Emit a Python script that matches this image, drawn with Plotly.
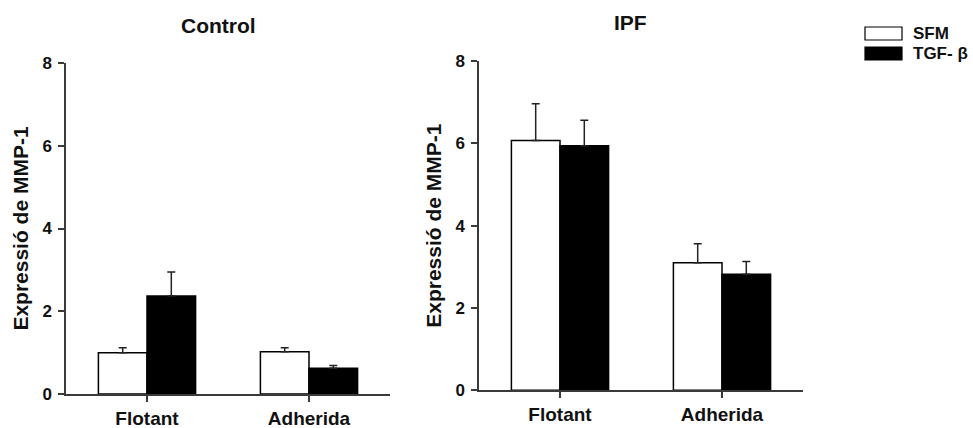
import plotly.graph_objects as go

categories = ["Flotant", "Adherida"]
control_sfm = [1.00, 1.02]
control_sfm_err = [0.12, 0.10]
control_tgf = [2.37, 0.62]
control_tgf_err = [0.58, 0.07]
ipf_sfm = [6.07, 3.10]
ipf_sfm_err = [0.89, 0.46]
ipf_tgf = [5.94, 2.82]
ipf_tgf_err = [0.62, 0.31]
y_ticks = [0, 2, 4, 6, 8]
panel_titles = ["Control", "IPF"]
series_names = ["SFM", "TGF- β"]
y_title = "Expressió de MMP-1"

W, H = 973, 428
FONT = "Liberation Sans, Arial, sans-serif"
AX = "#3a3a3a"

fig = go.Figure()

def add_panel(sfm, sfm_err, tgf, tgf_err, xa, ya):
    for vals, errs, color, name in [(sfm, sfm_err, "white", series_names[0]),
                                    (tgf, tgf_err, "black", series_names[1])]:
        fig.add_trace(go.Bar(
            x=categories, y=vals, name=name, xaxis=xa, yaxis=ya,
            marker=dict(color=color, line=dict(color="black", width=1.5)),
            error_y=dict(type="data", array=errs, arrayminus=[0] * len(errs),
                         symmetric=False, color="#222", thickness=1.5, width=4),
            showlegend=False,
        ))

add_panel(control_sfm, control_sfm_err, control_tgf, control_tgf_err, "x", "y")
add_panel(ipf_sfm, ipf_sfm_err, ipf_tgf, ipf_tgf_err, "x2", "y2")

def xax(domain):
    return dict(domain=domain, range=[-0.5, 1.5], showline=True, linecolor=AX, linewidth=1.5,
                ticks="outside", ticklen=6, tickcolor=AX, tickwidth=1.5, ticklabelstandoff=0,
                tickfont=dict(family=FONT, size=19, color="#111", weight="bold"),
                showgrid=False, zeroline=False, fixedrange=True, automargin=False)

def yax(domain, anchor):
    return dict(domain=domain, range=[0, 8], tickvals=y_ticks, anchor=anchor,
                showline=True, linecolor=AX, linewidth=1.5,
                ticks="outside", ticklen=6, tickcolor=AX, tickwidth=1.5, ticklabelstandoff=3,
                tickfont=dict(family=FONT, size=17, color="#111", weight="bold"),
                title=dict(text=y_title, font=dict(family=FONT, size=21, color="#111", weight="bold"),
                           standoff=8),
                showgrid=False, zeroline=False, automargin=False)

fig.update_layout(
    width=W, height=H,
    margin=dict(l=0, r=0, t=0, b=0),
    paper_bgcolor="white", plot_bgcolor="white",
    barmode="group", bargap=0.4, bargroupgap=0,
    xaxis=dict(**xax([66 / W, 390 / W]), anchor="y"),
    yaxis=yax([(H - 394) / H, (H - 63) / H], "x"),
    xaxis2=dict(**xax([479 / W, 803 / W]), anchor="y2"),
    yaxis2=yax([(H - 390.3) / H, (H - 61) / H], "x2"),
    showlegend=False,
)

# panel titles
for txt, xc, yc in [(panel_titles[0], 218, 25), (panel_titles[1], 630, 23)]:
    fig.add_annotation(text=txt, xref="paper", yref="paper", x=xc / W, y=1 - yc / H,
                       showarrow=False, xanchor="center", yanchor="middle",
                       font=dict(family=FONT, size=21, color="#111", weight="bold"))

# legend (drawn)
for i, (name, fill) in enumerate(zip(series_names, ["white", "black"])):
    y0, y1 = 27 + i * 20, 40 + i * 20
    fig.add_shape(type="rect", xref="paper", yref="paper",
                  x0=865 / W, x1=902 / W, y0=1 - y1 / H, y1=1 - y0 / H,
                  fillcolor=fill, line=dict(color="black", width=1.2))
    fig.add_annotation(text=name, xref="paper", yref="paper", x=911 / W, y=1 - (y0 + y1) / 2 / H,
                       showarrow=False, xanchor="left", yanchor="middle",
                       font=dict(family=FONT, size=17, color="#111", weight="bold"))

fig.write_html("out.html")
